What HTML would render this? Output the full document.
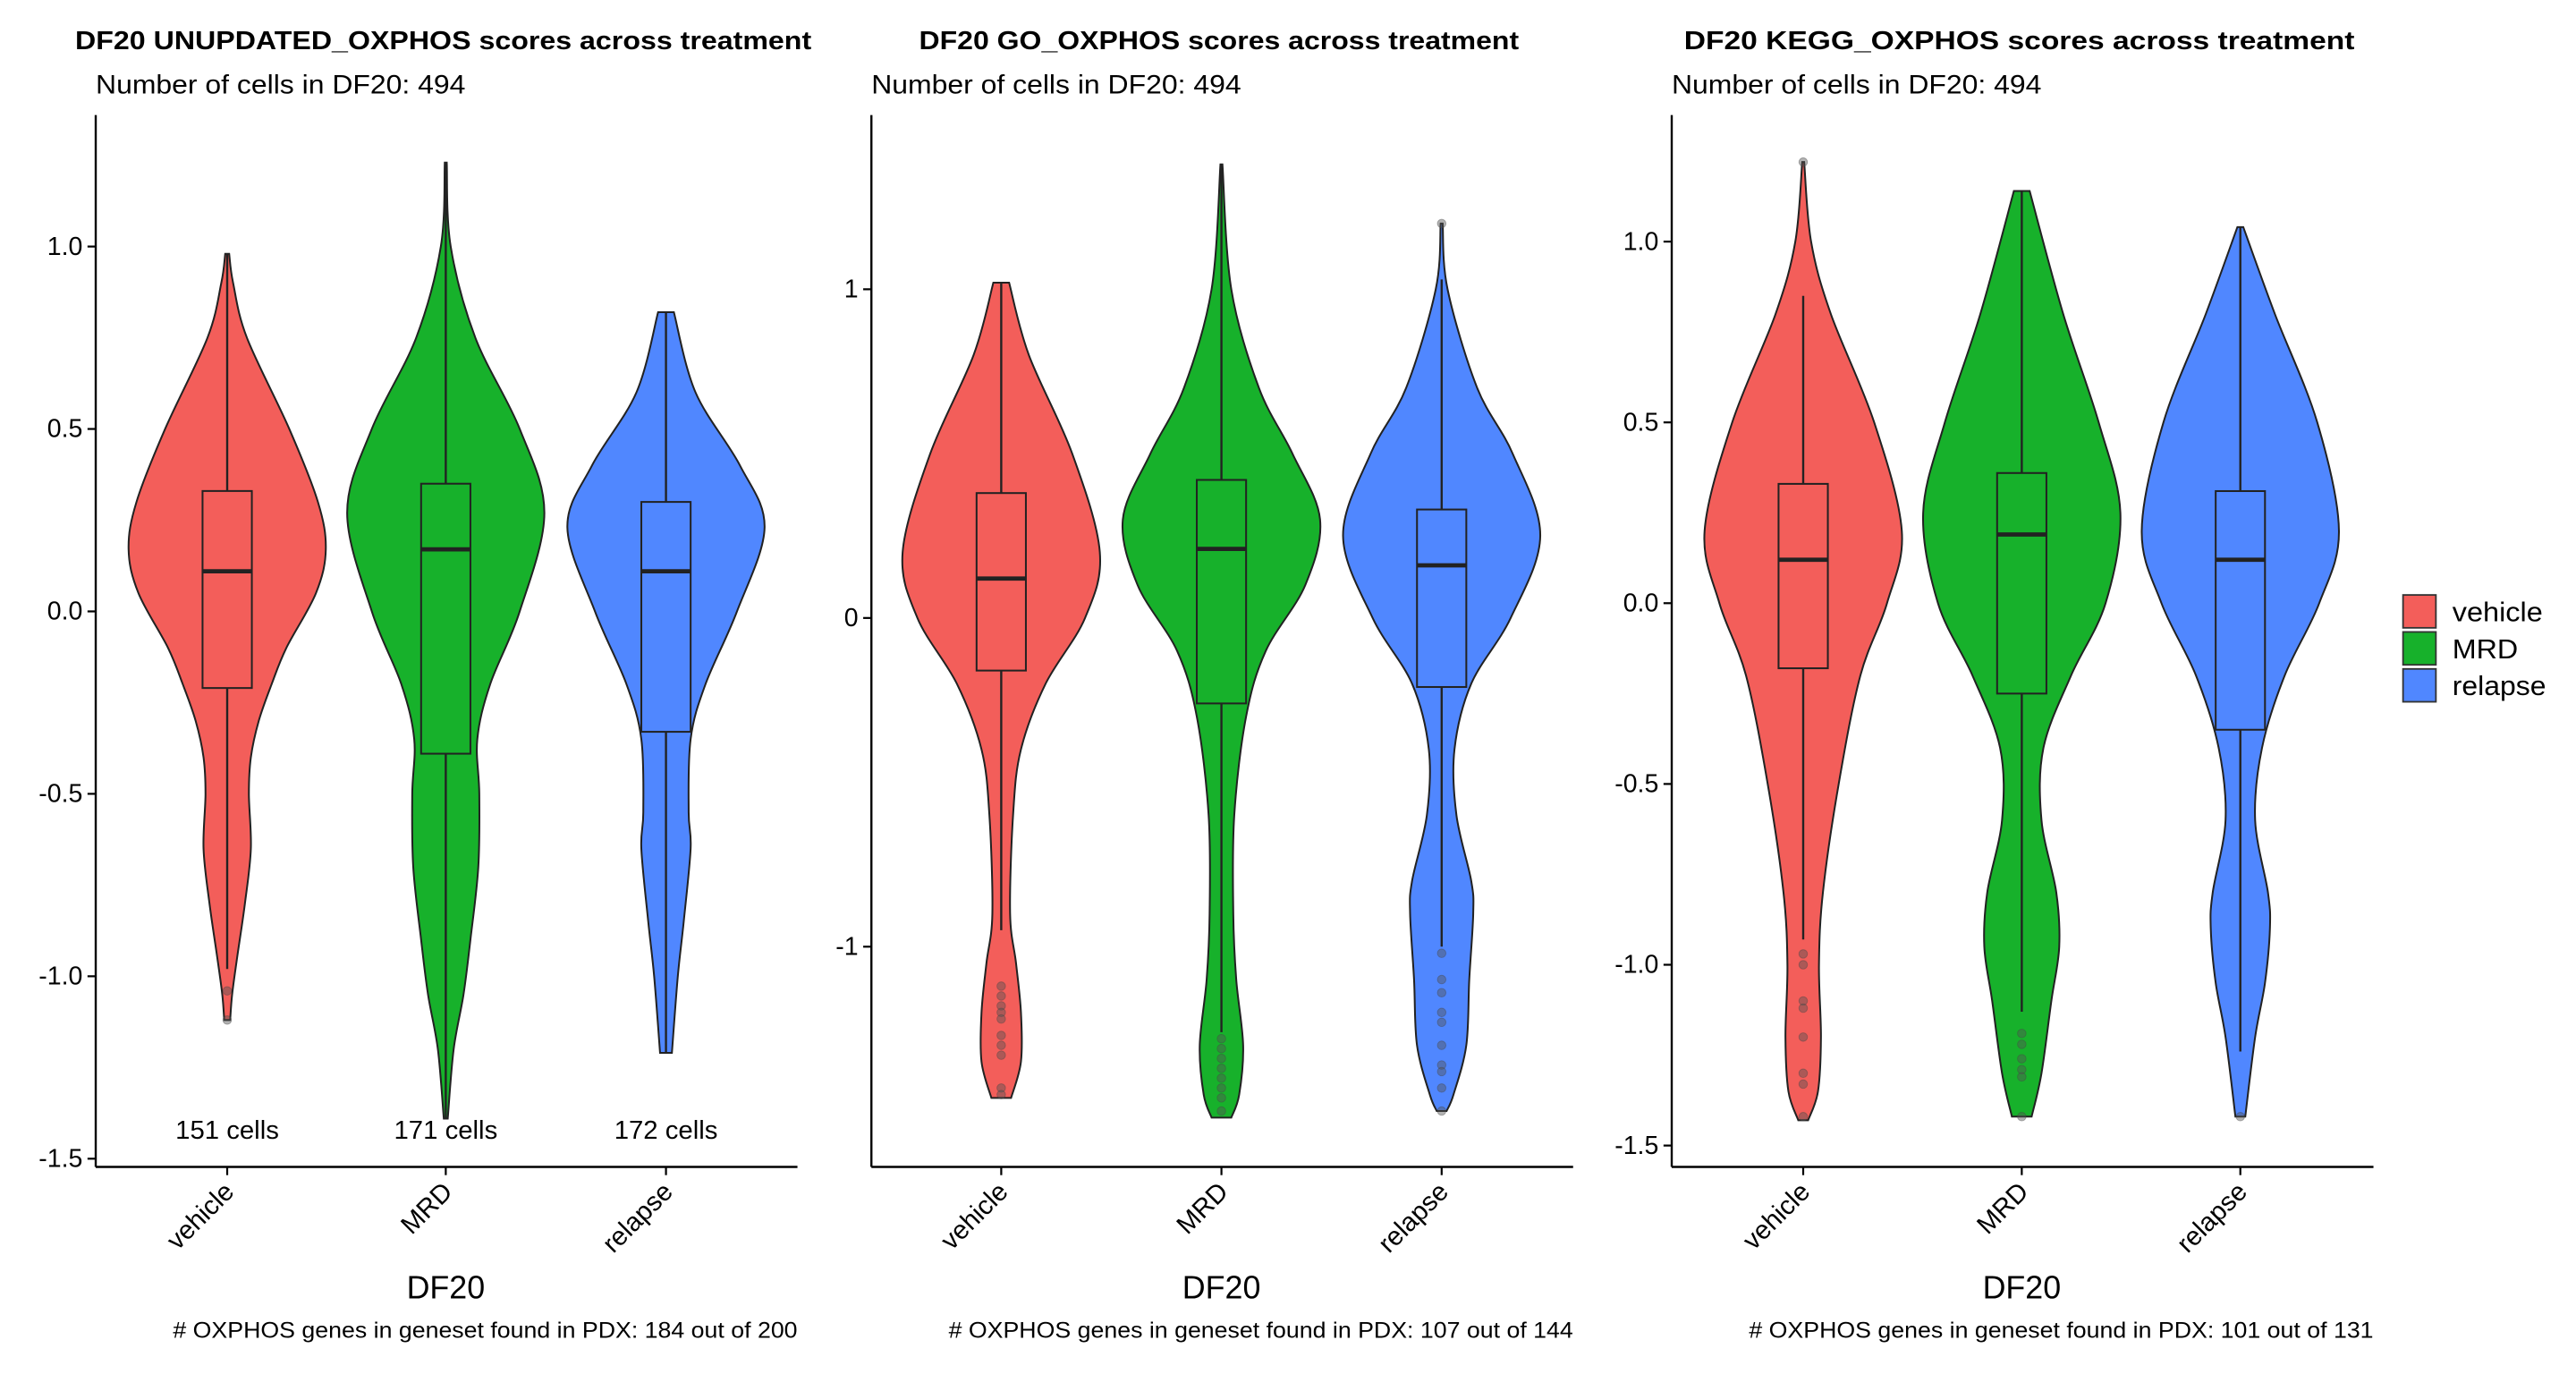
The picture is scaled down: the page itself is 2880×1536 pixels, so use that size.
<!DOCTYPE html>
<html><head><meta charset="utf-8"><style>
html,body{margin:0;padding:0;background:#fff;}
svg{display:block;font-family:"Liberation Sans",Arial,sans-serif;}
</style></head><body>
<svg id="chart" width="2880" height="1536" viewBox="0 0 1567 836" xmlns="http://www.w3.org/2000/svg"></svg>
<script>
// ---- data ----
const categories = ["vehicle","MRD","relapse"];
const panelTitles = ["DF20 UNUPDATED_OXPHOS scores across treatment","DF20 GO_OXPHOS scores across treatment","DF20 KEGG_OXPHOS scores across treatment"];
const captions = ["# OXPHOS genes in geneset found in PDX: 184 out of 200","# OXPHOS genes in geneset found in PDX: 107 out of 144","# OXPHOS genes in geneset found in PDX: 101 out of 131"];
const cellCounts = [151,171,172];
const ticks1 = [1.0,0.5,0.0,-0.5,-1.0,-1.5];
const tickLabels1 = ["1.0","0.5","0.0","-0.5","-1.0","-1.5"];
const ticks2 = [1,0,-1];
const tickLabels2 = ["1","0","-1"];
const ticks3 = [1.0,0.5,0.0,-0.5,-1.0,-1.5];
const tickLabels3 = ["1.0","0.5","0.0","-0.5","-1.0","-1.5"];

// violin profiles: [y values], [relative density]
const p1VehY=[0.98,0.9,0.75,0.5,0.3,0.17,0.05,-0.1,-0.2,-0.3,-0.4,-0.5,-0.65,-0.8,-0.95,-1.05,-1.12];
const p1VehW=[0.02,0.06,0.2,0.63,0.92,1.0,0.9,0.6,0.45,0.32,0.24,0.22,0.24,0.18,0.1,0.05,0.03];
const p1MrdY=[1.23,1.0,0.75,0.5,0.27,0.0,-0.2,-0.35,-0.5,-0.7,-0.9,-1.05,-1.2,-1.39];
const p1MrdW=[0.01,0.05,0.3,0.75,1.0,0.75,0.45,0.32,0.34,0.33,0.25,0.18,0.08,0.02];
const p1RelY=[0.82,0.6,0.4,0.23,0.0,-0.2,-0.35,-0.55,-0.65,-0.85,-1.0,-1.21];
const p1RelW=[0.08,0.3,0.75,1.0,0.72,0.4,0.25,0.23,0.25,0.18,0.12,0.06];
const p2VehY=[1.02,0.8,0.5,0.2,0.0,-0.2,-0.4,-0.6,-0.9,-1.05,-1.2,-1.35,-1.46];
const p2VehW=[0.08,0.28,0.72,1.0,0.85,0.45,0.2,0.12,0.09,0.15,0.2,0.2,0.1];
const p2MrdY=[1.38,1.0,0.7,0.5,0.3,0.1,-0.1,-0.3,-0.6,-0.9,-1.1,-1.3,-1.45,-1.52];
const p2MrdW=[0.01,0.1,0.38,0.72,1.0,0.85,0.45,0.25,0.13,0.12,0.15,0.22,0.18,0.1];
const p2RelY=[1.2,1.0,0.7,0.5,0.25,0.0,-0.2,-0.4,-0.6,-0.8,-0.9,-1.1,-1.3,-1.45,-1.5];
const p2RelW=[0.01,0.06,0.36,0.72,1.0,0.7,0.3,0.13,0.15,0.3,0.32,0.28,0.25,0.12,0.05];
const p3VehY=[1.22,1.0,0.8,0.5,0.2,0.0,-0.2,-0.5,-0.8,-1.0,-1.2,-1.35,-1.43];
const p3VehW=[0.01,0.08,0.28,0.72,1.0,0.85,0.58,0.36,0.2,0.16,0.18,0.15,0.05];
const p3MrdY=[1.14,0.8,0.5,0.25,0.0,-0.2,-0.4,-0.6,-0.8,-0.95,-1.1,-1.3,-1.42];
const p3MrdW=[0.08,0.42,0.78,1.0,0.85,0.5,0.22,0.2,0.35,0.38,0.3,0.2,0.1];
const p3RelY=[1.04,0.8,0.5,0.2,0.0,-0.2,-0.4,-0.6,-0.8,-0.9,-1.05,-1.2,-1.42];
const p3RelW=[0.03,0.35,0.78,1.0,0.8,0.45,0.22,0.15,0.28,0.3,0.25,0.15,0.05];

// box stats: [lowerWhisker, q1, median, q3, upperWhisker]
const p1Box=[[-0.98,-0.21,0.11,0.33,0.98],[-1.39,-0.39,0.17,0.35,1.23],[-1.21,-0.33,0.11,0.30,0.82]];
const p2Box=[[-0.95,-0.16,0.12,0.38,1.02],[-1.26,-0.26,0.21,0.42,1.38],[-1.0,-0.21,0.16,0.33,1.03]];
const p3Box=[[-0.93,-0.18,0.12,0.33,0.85],[-1.13,-0.25,0.19,0.36,1.14],[-1.24,-0.35,0.12,0.31,1.04]];
const p1Out=[[-1.04,-1.12],[],[]];
const p2Out=[[-1.12,-1.15,-1.18,-1.2,-1.22,-1.27,-1.3,-1.33,-1.43,-1.45],[-1.28,-1.31,-1.34,-1.37,-1.4,-1.43,-1.46,-1.5],[1.2,-1.02,-1.1,-1.14,-1.2,-1.23,-1.3,-1.36,-1.38,-1.43,-1.5]];
const p3Out=[[1.22,-0.97,-1.0,-1.1,-1.12,-1.2,-1.3,-1.33,-1.42],[-1.19,-1.22,-1.26,-1.29,-1.31,-1.42],[-1.42]];

const colors=["#F35E5A","#17B12B","#5087FF"];
const NS="http://www.w3.org/2000/svg";
const svg=document.getElementById("chart");
function mk(tag,attrs,parent,text){const e=document.createElementNS(NS,tag);for(const k in attrs)e.setAttribute(k,attrs[k]);if(text!==undefined)e.textContent=text;(parent||svg).appendChild(e);return e;}

const panels=[
 {x0:58,x1:485,yTop:70,yBot:710,v0:0.0,py0:372,scale:222,ticks:ticks1,labels:tickLabels1,prof:[[p1VehY,p1VehW],[p1MrdY,p1MrdW],[p1RelY,p1RelW]],box:p1Box,out:p1Out,cats:[138,271,405],counts:true,tw:448},
 {x0:530,x1:957,yTop:70,yBot:710,v0:0.0,py0:376,scale:200,ticks:ticks2,labels:tickLabels2,prof:[[p2VehY,p2VehW],[p2MrdY,p2MrdW],[p2RelY,p2RelW]],box:p2Box,out:p2Out,cats:[609,743,877],counts:false,tw:365},
 {x0:1017,x1:1444,yTop:70,yBot:710,v0:0.0,py0:367,scale:220,ticks:ticks3,labels:tickLabels3,prof:[[p3VehY,p3VehW],[p3MrdY,p3MrdW],[p3RelY,p3RelW]],box:p3Box,out:p3Out,cats:[1097,1230,1363],counts:false,tw:408}
];

function smoothPath(pts){
 let d="M"+pts[0][0].toFixed(2)+","+pts[0][1].toFixed(2);
 for(let i=0;i<pts.length-1;i++){
  const p0=pts[Math.max(0,i-1)],p1=pts[i],p2=pts[i+1],p3=pts[Math.min(pts.length-1,i+2)];
  const c1=[p1[0]+(p2[0]-p0[0])/6,p1[1]+(p2[1]-p0[1])/6];
  const c2=[p2[0]-(p3[0]-p1[0])/6,p2[1]-(p3[1]-p1[1])/6];
  d+="C"+c1[0].toFixed(2)+","+c1[1].toFixed(2)+" "+c2[0].toFixed(2)+","+c2[1].toFixed(2)+" "+p2[0].toFixed(2)+","+p2[1].toFixed(2);
 }
 return d;
}

panels.forEach((P,pi)=>{
 const g=mk("g",{},svg);
 
 
 const yS=v=>P.py0-(v-P.v0)*P.scale;
 const cx=(P.x0+P.x1)/2;
 const t=mk("text",{x:cx-2,y:30,"text-anchor":"middle","font-size":"15.5","font-weight":"bold",fill:"#000",textLength:P.tw,lengthAdjust:"spacingAndGlyphs"},g,panelTitles[pi]);
 
 
 const st=mk("text",{x:P.x0,y:57,"font-size":"16",fill:"#000",textLength:225,lengthAdjust:"spacingAndGlyphs"},g,"Number of cells in DF20: 494");
 
 
 P.prof.forEach((pr,ci)=>{
  const ys=pr[0],ws=pr[1],x=P.cats[ci],hw=60;
  const right=ys.map((v,i)=>[x+ws[i]*hw,yS(v)]);
  const left=ys.map((v,i)=>[x-ws[i]*hw,yS(v)]).reverse();
  const dR=smoothPath(right);
  const dL=smoothPath(left).replace(/^M/,"L");
  const vp=mk("path",{d:dR+dL+"Z",fill:colors[ci],stroke:"#222","stroke-width":"1.1"},g);
  
  
  const b=P.box[ci],bw=15;
  const wl=mk("line",{x1:x,x2:x,y1:yS(b[4]),y2:yS(b[0]),stroke:"#222","stroke-width":"1.3"},g);
  
  
  const br=mk("rect",{x:x-bw,y:yS(b[3]),width:2*bw,height:yS(b[1])-yS(b[3]),fill:colors[ci],stroke:"#222","stroke-width":"1.1"},g);
  
  
  const md=mk("line",{x1:x-bw,x2:x+bw,y1:yS(b[2]),y2:yS(b[2]),stroke:"#222","stroke-width":"2.6"},g);
  
  
  P.out[ci].forEach(o=>{
   const c=mk("circle",{cx:x,cy:yS(o),r:2.6,fill:"#555","fill-opacity":"0.45",stroke:"#444","stroke-opacity":"0.4","stroke-width":"0.5"},g);
   
   
  });
  if(P.counts){
   const ct=mk("text",{x:x,y:693,"text-anchor":"middle","font-size":"15.5",fill:"#000",textLength:63,lengthAdjust:"spacingAndGlyphs"},g,cellCounts[ci]+" cells");
   
   
  }
  const tk=mk("line",{x1:x,x2:x,y1:P.yBot,y2:P.yBot+5,stroke:"#000","stroke-width":"1.2"},g);
  
  
  const xl=mk("text",{x:x+5,y:P.yBot+16,"text-anchor":"end","font-size":"16",fill:"#000",transform:`rotate(-45 ${x+5} ${P.yBot+16})`},g,categories[ci]);
  
  
 });
 const ya=mk("line",{x1:P.x0,x2:P.x0,y1:P.yTop,y2:P.yBot,stroke:"#000","stroke-width":"1.3"},g);
 
 
 const xa=mk("line",{x1:P.x0,x2:P.x1,y1:P.yBot,y2:P.yBot,stroke:"#000","stroke-width":"1.3"},g);
 
 
 P.ticks.forEach((v,i)=>{
  const y=yS(v);
  const tl=mk("line",{x1:P.x0-5,x2:P.x0,y1:y,y2:y,stroke:"#000","stroke-width":"1.2"},g);
  
  
  const tt=mk("text",{x:P.x0-8,y:y+5,"text-anchor":"end","font-size":"15.5",fill:"#000"},g,P.labels[i]);
  
  
 });
 const xt=mk("text",{x:P.cats[1],y:790,"text-anchor":"middle","font-size":"19.5",fill:"#000"},g,"DF20");
 
 
 const cap=mk("text",{x:P.x1,y:814,"text-anchor":"end","font-size":"13.5",fill:"#000",textLength:380,lengthAdjust:"spacingAndGlyphs"},g,captions[pi]);
 
 
});

const lg=mk("g",{},svg);


const legendLens=[55,40,57];
categories.forEach((c,i)=>{
 const y=362+i*22.5;
 const r=mk("rect",{x:1462,y:y,width:20,height:20,fill:colors[i],stroke:"#333","stroke-width":"1"},lg);
 
 
 const tx=mk("text",{x:1492,y:y+16,"font-size":"16.5",fill:"#000",textLength:legendLens[i],lengthAdjust:"spacingAndGlyphs"},lg,c);
 
 
});
</script>
</body></html>
